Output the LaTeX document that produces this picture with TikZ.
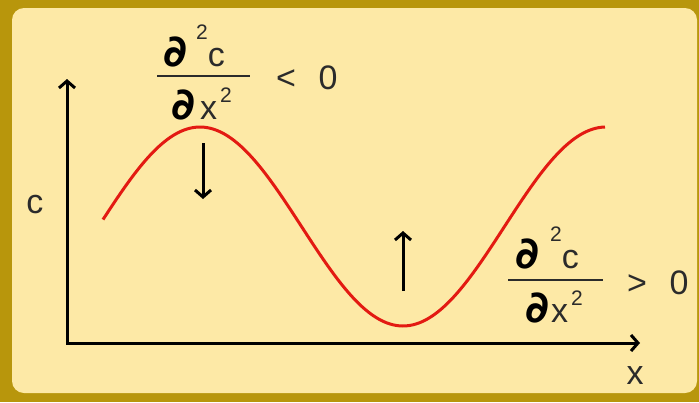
\documentclass[tikz,border=0pt]{standalone}
\usepackage{fontspec}
\setmainfont{Liberation Sans}
\newfontfamily\pdfont{DejaVu Sans}
\usetikzlibrary{arrows.meta}
\definecolor{gold}{HTML}{B8960C}
\definecolor{paper}{HTML}{FDE9A6}
\definecolor{ink}{HTML}{2B2B2B}
\definecolor{curvered}{HTML}{E31A12}
\newcommand\pdsym[1]{\makebox[#1][l]{\pdfont\bfseries\fontsize{44}{46}\selectfont\color{black}∂}}
\newcommand\sqhi{\raisebox{27pt}{\fontsize{21}{21}\selectfont 2}}
\newcommand\sqlo{\raisebox{17pt}{\fontsize{21}{21}\selectfont 2}}
\begin{document}
\begin{tikzpicture}[x=1pt,y=-1pt,
  barb/.tip={Straight Barb[length=7pt,width=16pt,line width=3pt]},
  axisline/.style={line width=3pt,line join=miter,barb-barb},
  bluntarrow/.style={line width=3pt,-barb},
  curveline/.style={line width=3pt,curvered},
  lbl/.style={text=ink,font=\fontsize{34}{36}\selectfont,inner sep=0pt,anchor=base},
  fracpart/.style={lbl,anchor=base west},
  fracbar/.style={line width=2pt,ink}]
\useasboundingbox (0,0) rectangle (699,402);
\fill[gold] (0,0) rectangle (699,402);
\fill[paper, rounded corners=12pt] (12,8) rectangle (697,393);
% axes
\coordinate (ytip) at (67,79);
\coordinate (O) at (67,343);
\coordinate (xtip) at (640,343);
\draw[axisline] (ytip) -- (O) -- (xtip);
\node[lbl] (clbl) at (35,213) {c};
\node[lbl] (xlbl) at (635,384) {x};
% curve
\draw[curveline] plot[domain=103:605,samples=150,smooth] (\x,{226.5-99.5*cos((\x-200)/406*360)});
% arrows
\coordinate (d0) at (203,143);
\coordinate (d1) at (203,199);
\draw[bluntarrow] (d0) -- (d1);
\coordinate (u0) at (403,291);
\coordinate (u1) at (403,231);
\draw[bluntarrow] (u0) -- (u1);
% top fraction
\node[fracpart] (n1) at (163,66) {\pdsym{33pt}\sqhi c};
\node[fracpart] (m1) at (171,119) {\pdsym{29pt}x\kern3pt\sqlo};
\coordinate (b1a) at (157,76);
\coordinate (b1b) at (250,76);
\draw[fracbar] (b1a) -- (b1b);
\node[lbl] (lt) at (286,89) {<};
\node[lbl] (z1) at (328,89) {0};
% bottom fraction
\node[fracpart] (n2) at (515,268) {\pdsym{35pt}\sqhi c};
\node[fracpart] (m2) at (525,322) {\pdsym{26pt}x\kern3pt\sqlo};
\coordinate (b2a) at (508,280);
\coordinate (b2b) at (603,280);
\draw[fracbar] (b2a) -- (b2b);
\node[lbl] (gt) at (637,294) {>};
\node[lbl] (z2) at (679,294) {0};
\end{tikzpicture}
\end{document}
